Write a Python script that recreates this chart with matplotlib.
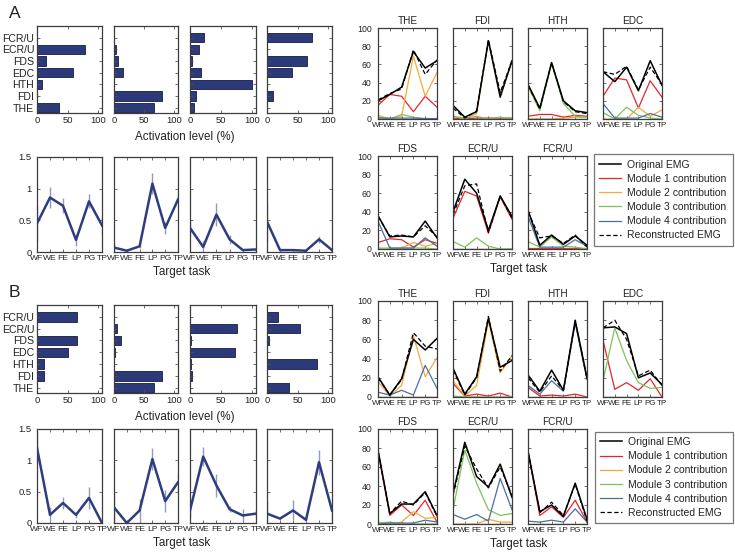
import matplotlib
matplotlib.use('Agg')
import matplotlib.pyplot as plt
from matplotlib.lines import Line2D

plt.rcParams['font.family'] = ['Liberation Sans', 'DejaVu Sans']

W, H = 735, 554

# bar muscles, bottom to top
muscles = ['THE', 'FDI', 'HTH', 'EDC', 'FDS', 'ECR/U', 'FCR/U']
tasks = ['WF', 'WE', 'FE', 'LP', 'PG', 'TP']
emg_muscles = ['THE', 'FDI', 'HTH', 'EDC', 'FDS', 'ECR/U', 'FCR/U']

# ---- case A ----
a_weights = [
    [36, 0, 8, 58, 14, 79, 0],
    [66, 80, 0.5, 15, 7, 3, 0],
    [6, 10, 100, 18, 4, 15, 23],
    [0, 10, 0, 40, 65, 0, 73],
]
a_coef = [
    [0.45, 0.86, 0.73, 0.19, 0.80, 0.42],
    [0.07, 0.02, 0.09, 1.08, 0.38, 0.83],
    [0.38, 0.08, 0.59, 0.20, 0.03, 0.04],
    [0.48, 0.03, 0.03, 0.02, 0.20, 0.03],
]
a_coef_err = [
    [0.27, 0.17, 0.12, 0.10, 0.11, 0.13],
    [0.08, 0.02, 0.03, 0.17, 0.09, 0.10],
    [0.13, 0.10, 0.18, 0.07, 0.02, 0.02],
    [0.30, 0.02, 0.02, 0.01, 0.05, 0.02],
]
a_orig = [
    [20, 27, 35, 74, 56, 64],
    [15, 2, 8, 86, 24, 64],
    [38, 12, 62, 20, 9, 7],
    [52, 41, 57, 31, 64, 37],
    [36, 13, 14, 13, 30, 12],
    [40, 75, 60, 20, 57, 35],
    [42, 4, 15, 5, 14, 4],
]
a_recon = [
    [21, 28, 33, 76, 49, 65],
    [12, 1, 9, 87, 29, 64],
    [37, 11, 62, 19, 8, 6],
    [52, 49, 58, 32, 57, 38],
    [35, 14, 15, 13, 25, 13],
    [37, 68, 70, 18, 57, 33],
    [40, 12, 14, 6, 15, 2],
]
a_mod1 = [
    [15, 27, 25, 8, 25, 13],
    [1, 0, 1, 1, 1, 1],
    [3, 5, 5, 2, 4, 3],
    [25, 45, 43, 12, 42, 24],
    [7, 11, 10, 2, 10, 6],
    [33, 62, 57, 17, 56, 32],
    [1, 1, 1, 1, 1, 1],
]
a_mod2 = [
    [4, 0, 3, 69, 25, 51],
    [3, 0, 6, 86, 28, 63],
    [0, 0, 0, 1, 2, 2],
    [0, 0, 0, 13, 3, 10],
    [0, 0, 1, 7, 3, 6],
    [0, 0, 0, 0, 0, 0],
    [0, 0, 0, 0, 0, 0],
]
a_mod3 = [
    [2, 0, 5, 2, 0, 0],
    [3, 1, 3, 0, 2, 0],
    [36, 9, 61, 17, 3, 2],
    [7, 0, 13, 4, 1, 0],
    [1, 1, 1, 1, 1, 0],
    [8, 2, 12, 3, 0, 0],
    [8, 2, 13, 3, 2, 0],
]
a_mod4 = [
    [1, 1, 1, 1, 0.5, 0.5],
    [0, 0, 0, 0, 0, 0],
    [0, 0, 0, 0, 0, 0],
    [17, 1, 1, 1, 6, 2],
    [30, 1, 1, 1, 12, 3],
    [0, 0, 0, 0, 0, 0],
    [35, 2, 2, 2, 10, 3],
]

# ---- case B ----
b_weights = [
    [0, 12, 11, 50, 66, 0, 65],
    [67, 80, 0, 1, 12, 5, 0],
    [0, 3, 1.6, 73, 1.6, 76, 0],
    [36, 0, 82, 0, 4, 54, 18],
]
b_coef = [
    [1.20, 0.13, 0.32, 0.13, 0.40, 0.00],
    [0.25, 0.00, 0.20, 1.02, 0.35, 0.65],
    [0.20, 1.06, 0.60, 0.22, 0.12, 0.15],
    [0.15, 0.07, 0.20, 0.05, 0.97, 0.20],
]
b_coef_err = [
    [0.25, 0.12, 0.10, 0.05, 0.18, 0.02],
    [0.25, 0.01, 0.18, 0.18, 0.17, 0.15],
    [0.10, 0.15, 0.18, 0.05, 0.10, 0.05],
    [0.20, 0.03, 0.16, 0.03, 0.20, 0.15],
]
b_orig = [
    [21, 2, 19, 60, 49, 61],
    [30, 3, 21, 82, 31, 38],
    [23, 6, 28, 7, 80, 20],
    [72, 73, 66, 20, 25, 13],
    [78, 11, 21, 21, 34, 9],
    [32, 86, 50, 39, 63, 28],
    [77, 13, 20, 8, 43, 5],
]
b_recon = [
    [20, 2, 18, 67, 53, 50],
    [28, 2, 20, 84, 27, 43],
    [20, 5, 22, 7, 79, 19],
    [72, 80, 60, 22, 28, 12],
    [77, 11, 24, 20, 33, 8],
    [30, 82, 58, 38, 60, 30],
    [76, 12, 23, 9, 42, 3],
]
b_mod1 = [
    [0, 0, 0, 0, 0, 0],
    [14, 1, 3, 1, 4, 0],
    [10, 1, 2, 1, 3, 0],
    [59, 8, 15, 7, 19, 0],
    [76, 9, 20, 9, 25, 2],
    [0, 0, 0, 0, 0, 0],
    [76, 9, 18, 7, 25, 2],
]
b_mod2 = [
    [16, 1, 12, 64, 21, 41],
    [17, 1, 12, 79, 25, 43],
    [0, 0, 0, 0, 0, 0],
    [0, 0, 0, 0, 0, 0],
    [2, 0, 2, 13, 6, 7],
    [0, 0, 0, 5, 2, 2],
    [0, 0, 0, 0, 0, 0],
]
b_mod3 = [
    [0, 0, 0, 0, 0, 0],
    [1, 0, 0, 0, 0, 0],
    [0, 0, 0, 0, 0, 0],
    [17, 72, 38, 15, 9, 10],
    [1, 2, 0, 0, 0, 0],
    [15, 78, 43, 15, 9, 11],
    [0, 0, 0, 0, 0, 0],
]
b_mod4 = [
    [5, 2, 7, 2, 33, 9],
    [0, 0, 0, 0, 0, 0],
    [12, 3, 17, 6, 77, 18],
    [0, 0, 0, 0, 0, 0],
    [0, 1, 1, 1, 4, 2],
    [10, 5, 10, 3, 48, 15],
    [3, 2, 4, 2, 16, 2],
]

BAR_C = '#2c3a7a'
LINE_C = '#2f3d7e'
ERR_C = '#8d9bc4'
FRAME_C = '#3c3c3c'
TXT_C = '#222222'
MOD_COLORS = ['#e3262b', '#f5a93a', '#7fc25a', '#4d6e9e']
LEG_LABELS = ['Original EMG', 'Module 1 contribution', 'Module 2 contribution',
              'Module 3 contribution', 'Module 4 contribution', 'Reconstructed EMG']

fig = plt.figure(figsize=(W / 100, H / 100), dpi=100)


def px_axes(x0, y0, x1, y1):
    ax = fig.add_axes([x0 / W, 1 - y1 / H, (x1 - x0) / W, (y1 - y0) / H])
    for s in ax.spines.values():
        s.set_color(FRAME_C)
        s.set_linewidth(0.9)
    ax.tick_params(direction='in', top=True, right=True, length=2.5,
                   width=0.6, color='#555555', pad=2, labelcolor=TXT_C)
    return ax


def draw_case(weights, coef, coef_err, orig, recon, mods, y_bar, y_line,
              y_r1, y_r2, y_leg, letter):
    left_x = [(37, 102), (114, 178), (190, 256), (267, 332)]
    right_x = [(378, 437), (453, 512), (528, 587), (603, 662)]

    fig.text(9 / W, 1 - (y_bar[0] - 13) / H, letter, fontsize=12.5,
             va='center', ha='left', color=TXT_C)

    # module weights
    for i, (x0, x1) in enumerate(left_x):
        ax = px_axes(x0, y_bar[0], x1, y_bar[1])
        ax.barh(range(1, 8), weights[i], height=0.8, color=BAR_C,
                edgecolor='#161c45', linewidth=0.6)
        ax.set_xlim(0, 106)
        ax.set_ylim(0.55, 8)
        ax.set_xticks([0, 50, 100])
        ax.set_yticks(range(1, 8))
        ax.tick_params(axis='x', labelsize=6.8)
        if i == 0:
            ax.set_yticklabels(muscles, fontsize=7.6)
        else:
            ax.set_yticklabels([])
    fig.text(185 / W, 1 - (y_bar[1] + 24) / H, 'Activation level (%)',
             fontsize=8.4, ha='center', va='center', color=TXT_C)

    # activation coefficients
    for i, (x0, x1) in enumerate(left_x):
        ax = px_axes(x0, y_line[0], x1, y_line[1])
        ax.errorbar(range(6), coef[i], yerr=coef_err[i], fmt='none',
                    ecolor=ERR_C, elinewidth=1.0, capsize=0, zorder=2)
        ax.plot(range(6), coef[i], color=LINE_C, lw=1.8, zorder=3)
        ax.set_xlim(0, 5)
        ax.set_ylim(0, 1.5)
        ax.set_xticks(range(6))
        ax.set_xticklabels(tasks, fontsize=6.1)
        ax.set_yticks([0, 0.5, 1, 1.5])
        if i == 0:
            ax.set_yticklabels(['0', '0.5', '1', '1.5'], fontsize=6.8)
            ax.tick_params(axis='y', pad=4)
        else:
            ax.set_yticklabels([])
    fig.text(182 / W, 1 - (y_line[1] + 20) / H, 'Target task',
             fontsize=8.4, ha='center', va='center', color=TXT_C)

    # EMG reconstruction
    for k, m in enumerate(emg_muscles):
        if k < 4:
            x0, x1 = right_x[k]
            ya, yb = y_r1
        else:
            x0, x1 = right_x[k - 4]
            ya, yb = y_r2
        ax = px_axes(x0, ya, x1, yb)
        for j, mod in enumerate(mods):
            ax.plot(range(6), mod[k], color=MOD_COLORS[j], lw=0.9)
        ax.plot(range(6), orig[k], color='black', lw=1.1)
        ax.plot(range(6), recon[k], color='black', lw=0.9, ls=(0, (3.5, 2)))
        ax.set_xlim(0, 5)
        ax.set_ylim(0, 100)
        ax.set_xticks(range(6))
        ax.set_xticklabels(tasks, fontsize=5.8)
        ax.set_yticks(range(0, 101, 20))
        if k in (0, 4):
            ax.tick_params(axis='y', labelsize=6.3, pad=4.5)
        else:
            ax.set_yticklabels([])
        ax.set_title(m, fontsize=7.2, pad=3, color=TXT_C)
    fig.text(519 / W, 1 - (y_r2[1] + 20) / H, 'Target task',
             fontsize=8.4, ha='center', va='center', color=TXT_C)

    # legend
    lx0, ly0, lx1, ly1 = y_leg
    lax = fig.add_axes([lx0 / W, 1 - ly1 / H, (lx1 - lx0) / W, (ly1 - ly0) / H])
    lax.axis('off')
    handles = [Line2D([], [], color='black', lw=1.1)]
    handles += [Line2D([], [], color=c, lw=0.9) for c in MOD_COLORS]
    handles += [Line2D([], [], color='black', lw=0.9, ls=(0, (3.5, 2)))]
    leg = lax.legend(handles, LEG_LABELS, loc='center', mode='expand',
                     bbox_to_anchor=(0, 0, 1, 1), borderaxespad=0,
                     fontsize=7.5, handlelength=2.1, handletextpad=0.55,
                     labelspacing=0.4, fancybox=False, borderpad=0.5)
    leg.get_frame().set_edgecolor('#555555')
    leg.get_frame().set_linewidth(0.9)
    for t in leg.get_texts():
        t.set_color(TXT_C)


draw_case(a_weights, a_coef, a_coef_err, a_orig, a_recon,
          [a_mod1, a_mod2, a_mod3, a_mod4],
          (26, 113), (157, 252), (28, 119), (156, 249), (594, 153, 733, 247), 'A')
draw_case(b_weights, b_coef, b_coef_err, b_orig, b_recon,
          [b_mod1, b_mod2, b_mod3, b_mod4],
          (305, 393), (429, 523), (301, 397), (429, 524), (595, 435, 733, 520), 'B')

fig.savefig('out.png', dpi=100)
